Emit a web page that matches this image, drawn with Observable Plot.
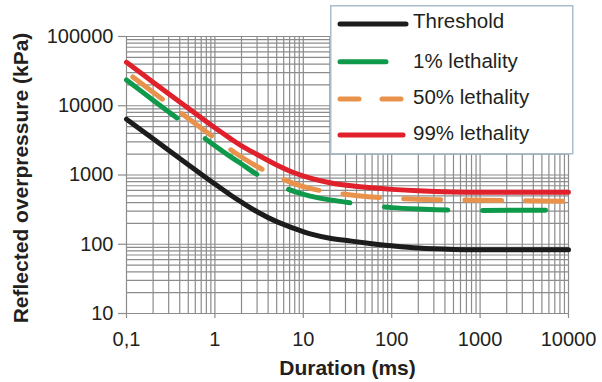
<!DOCTYPE html>
<html><head><meta charset="utf-8">
<script src="https://cdn.jsdelivr.net/npm/d3@7"></script>
<script src="https://cdn.jsdelivr.net/npm/@observablehq/plot@0.6"></script>
<style>
body{margin:0;background:#fff;}
#wrap{position:relative;width:602px;height:382px;font-family:"Liberation Sans",Arial,sans-serif;}
#legend{position:absolute;left:0;top:0;pointer-events:none;}
</style></head><body><div id="wrap"></div>
<script>
// ---- data ----
const seriesNames = ["Threshold", "1% lethality", "50% lethality", "99% lethality"];
const seriesColors = ["#1c1c1c", "#0e9a4a", "#e8924c", "#e0202b"];

const durThreshold = [0.1, 0.2, 0.5, 1, 1.5, 2, 3, 5, 8, 12, 20, 35, 60, 100, 200, 500, 1000, 3000, 10000];
const valThreshold = [6400, 3340, 1410, 740, 515, 405, 295, 212, 168, 141, 122, 111, 102, 95, 88, 84, 83, 83, 83];

const durLethal1 = [0.1, 0.2, 0.5, 1, 1.5, 2, 3, 5, 8, 12, 20, 35, 60, 100, 200, 500, 1000, 3000, 10000];
const valLethal1 = [23600, 12050, 5050, 2650, 1840, 1442, 1020, 730, 575, 495, 437, 394, 362, 338, 322, 310, 308, 309, 310];

const durLethal50 = [0.118, 0.2, 0.5, 1, 1.5, 2, 3, 5, 8, 12, 20, 35, 60, 100, 200, 500, 1000, 3000, 10000];
const valLethal50 = [26000, 15700, 6550, 3400, 2330, 1820, 1327, 953, 746, 640, 563, 515, 480, 462, 445, 436, 432, 425, 416];

const durLethal99 = [0.1, 0.2, 0.5, 1, 1.5, 2, 3, 5, 8, 12, 20, 35, 60, 100, 200, 500, 1000, 3000, 10000];
const valLethal99 = [42400, 21900, 9200, 4800, 3360, 2640, 1980, 1400, 1070, 902, 773, 698, 652, 620, 590, 569, 565, 563, 565];

const xTicks = [0.1, 1, 10, 100, 1000, 10000];
const xTickLabels = ["0,1", "1", "10", "100", "1000", "10000"];
const yTicks = [10, 100, 1000, 10000, 100000];
const yTickLabels = ["10", "100", "1000", "10000", "100000"];
const xTitle = "Duration (ms)";
const yTitle = "Reflected overpressure (kPa)";

// ---- build ----
const durs = [durThreshold, durLethal1, durLethal50, durLethal99];
const vals = [valThreshold, valLethal1, valLethal50, valLethal99];
const dashes = [null, "63,35", "37,24", null];
const seriesData = durs.map((ds, k) => ds.map((d, i) => ({d, v: vals[k][i], s: seriesNames[k]})));

const xGrid = [], yGrid = [];
for (let e = -1; e < 4; e++) for (let m = 1; m < 10; m++) xGrid.push(+(m * 10 ** e).toPrecision(3));
xGrid.push(10000);
for (let e = 1; e < 5; e++) for (let m = 1; m < 10; m++) yGrid.push(m * 10 ** e);
yGrid.push(100000);

const xLab = new Map(xTicks.map((t, i) => [t, xTickLabels[i]]));
const yLab = new Map(yTicks.map((t, i) => [t, yTickLabels[i]]));
const gridColor = "#8c8c8c";
const textColor = "#231f20";

const chart = Plot.plot({
  width: 602, height: 382,
  marginLeft: 126, marginRight: 34, marginTop: 36, marginBottom: 69,
  style: {fontFamily: "'Liberation Sans', Arial, sans-serif", fontSize: "20px", color: textColor, background: "transparent"},
  x: {type: "log", domain: [0.1, 10000]},
  y: {type: "log", domain: [10, 100000]},
  marks: [
    Plot.ruleX(xGrid, {stroke: gridColor, strokeWidth: 1.2}),
    Plot.ruleY(yGrid, {stroke: gridColor, strokeWidth: 1.2}),
    Plot.axisX(xTicks, {tickSize: 5, tickPadding: 13, tickFormat: d => xLab.get(d), stroke: gridColor, strokeWidth: 1.2, fill: textColor, fontSize: 20, label: null}),
    Plot.axisY(yTicks, {tickSize: 8, tickPadding: 5, tickFormat: d => yLab.get(d), stroke: gridColor, strokeWidth: 1.2, fill: textColor, fontSize: 20, label: null}),
    ...seriesData.map((data, k) => Plot.line(data, {
      x: "d", y: "v", stroke: seriesColors[k], strokeWidth: 5, curve: "catmull-rom",
      strokeLinecap: "round", strokeDasharray: dashes[k] || undefined
    })),
    Plot.text([xTitle], {frameAnchor: "bottom", dy: 55, lineAnchor: "middle", textAnchor: "middle", fontWeight: "bold", fontSize: 21, fill: textColor}),
    Plot.text([yTitle], {frameAnchor: "left", dx: -105, dy: 3, rotate: -90, lineAnchor: "middle", textAnchor: "middle", fontWeight: "bold", fontSize: 21, fill: textColor})
  ]
});
const wrap = document.getElementById("wrap");
wrap.appendChild(chart);

// ---- legend ----
const ns = "http://www.w3.org/2000/svg";
const lg = document.createElementNS(ns, "svg");
lg.setAttribute("id", "legend");
lg.setAttribute("width", 602); lg.setAttribute("height", 382);
function el(tag, attrs, parent) {
  const e = document.createElementNS(ns, tag);
  for (const k in attrs) e.setAttribute(k, attrs[k]);
  parent.appendChild(e); return e;
}
el("rect", {x: 330.75, y: 5.75, width: 242, height: 148, fill: "#fff", stroke: "#a9bdcc", "stroke-width": 1.5}, lg);
const legY = [24, 61.7, 99, 135];
const legTextY = [27.5, 67.8, 104, 140.2];
const legEnd = [406, 386, 402, 403];
const legDash = [null, null, "19,23", null];
seriesNames.forEach((name, k) => {
  const a = {x1: 340, x2: legEnd[k], y1: legY[k], y2: legY[k], stroke: seriesColors[k], "stroke-width": 5, "stroke-linecap": "round"};
  if (legDash[k]) a["stroke-dasharray"] = legDash[k];
  el("line", a, lg);
  const t = el("text", {x: 413, y: legTextY[k], fill: textColor, "font-size": "20.5px", "font-family": "'Liberation Sans', Arial, sans-serif"}, lg);
  t.textContent = name;
});
wrap.appendChild(lg);
</script>
</body></html>
